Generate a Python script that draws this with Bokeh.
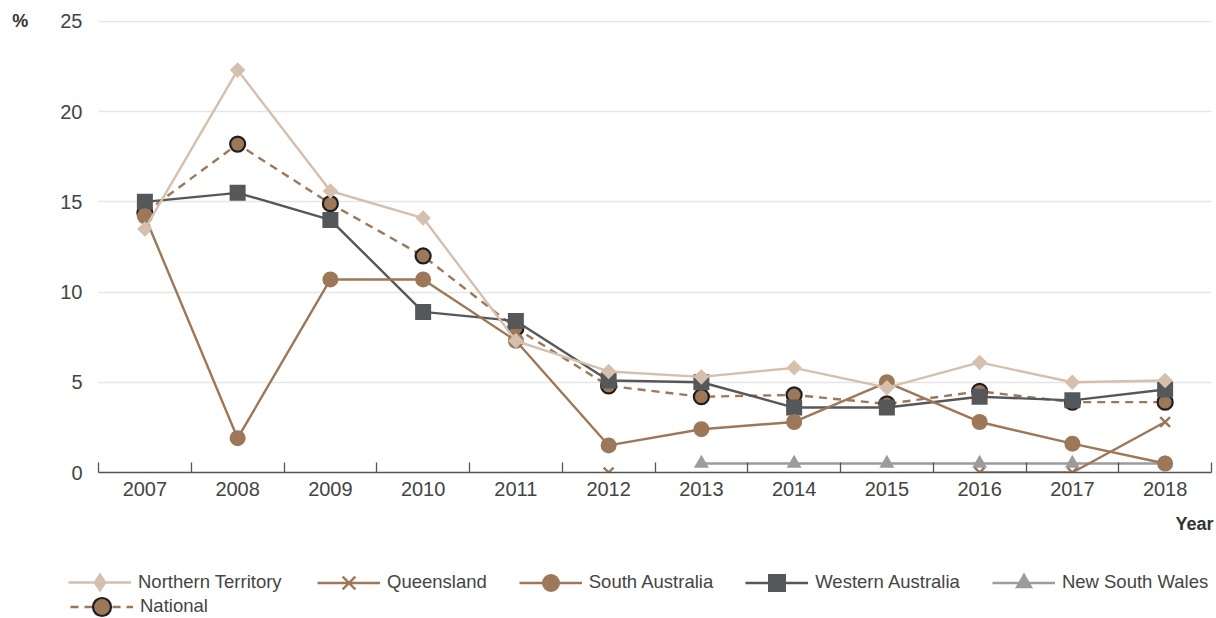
import math
from bokeh.plotting import figure
from bokeh.layouts import column
from bokeh.models import FixedTicker, Legend, LegendItem, ColumnDataSource, Title, Range1d
from bokeh.embed import file_html
from bokeh.resources import INLINE

years = [2007, 2008, 2009, 2010, 2011, 2012, 2013, 2014, 2015, 2016, 2017, 2018]
northern_territory = [13.5, 22.3, 15.6, 14.1, 7.3, 5.6, 5.3, 5.8, 4.7, 6.1, 5.0, 5.1]
queensland = [None, None, None, None, None, 0.0, None, None, None, 0.0, 0.0, 2.8]
south_australia = [14.2, 1.9, 10.7, 10.7, 7.3, 1.5, 2.4, 2.8, 5.0, 2.8, 1.6, 0.5]
western_australia = [15.0, 15.5, 14.0, 8.9, 8.4, 5.1, 5.0, 3.6, 3.6, 4.2, 4.0, 4.6]
new_south_wales = [None, None, None, None, None, None, 0.5, 0.5, 0.5, 0.5, 0.5, 0.5]
national = [14.4, 18.2, 14.9, 12.0, 8.0, 4.8, 4.2, 4.3, 3.8, 4.5, 3.9, 3.9]
y_ticks = [0, 5, 10, 15, 20, 25]

FONT = "Liberation Sans"
C_NT = "#d5bfad"
C_BR = "#9c7758"
C_WA = "#555759"
C_NSW = "#9b9c9e"
C_TXT = "#444444"
LW = 2.4

def nanify(vals):
    return [float("nan") if v is None else v for v in vals]

src = ColumnDataSource(dict(
    x=years,
    nt=nanify(northern_territory),
    q=nanify(queensland),
    sa=nanify(south_australia),
    wa=nanify(western_australia),
    nsw=nanify(new_south_wales),
    nat=nanify(national),
))

# ---------------- main chart ----------------
p = figure(width=1216, height=560, output_backend="svg", toolbar_location=None,
           x_range=(2006.5, 2018.5), y_range=(0, 25.05),
           min_border_left=98, min_border_right=5, min_border_top=20,
           min_border_bottom=88)
p.outline_line_color = None
p.frame_align = False

p.xaxis.ticker = FixedTicker(ticks=years, minor_ticks=[y - 0.5 for y in years] + [2018.5])
p.xaxis.major_tick_line_color = None
p.xaxis.major_tick_out = 0
p.xaxis.minor_tick_in = 10
p.xaxis.minor_tick_out = 0
p.xaxis.minor_tick_line_color = "#555555"
p.xaxis.minor_tick_line_width = 1.3
p.xaxis.axis_line_color = "#555555"
p.xaxis.axis_line_width = 1.3
p.xaxis.major_label_text_font = FONT
p.xaxis.major_label_text_font_size = "20px"
p.xaxis.major_label_text_color = C_TXT
p.xaxis.major_label_standoff = 9
p.xgrid.grid_line_color = None

p.yaxis.ticker = FixedTicker(ticks=y_ticks)
p.yaxis.axis_line_color = None
p.yaxis.major_tick_line_color = None
p.yaxis.major_tick_out = 0
p.yaxis.minor_tick_line_color = None
p.yaxis.major_label_text_font = FONT
p.yaxis.major_label_text_font_size = "20px"
p.yaxis.major_label_text_color = C_TXT
p.yaxis.major_label_standoff = 16
p.yaxis.axis_label = "%"
p.yaxis.axis_label_align = "end"
p.yaxis.axis_label_orientation = "horizontal"
p.yaxis.axis_label_standoff = 29
p.yaxis.axis_label_text_font = FONT
p.yaxis.axis_label_text_font_size = "18px"
p.yaxis.axis_label_text_font_style = "bold"
p.yaxis.axis_label_text_color = "#333333"
p.ygrid.ticker = FixedTicker(ticks=y_ticks[1:])
p.ygrid.grid_line_color = "#e6e6e6"
p.ygrid.grid_line_width = 1.3

p.add_layout(Title(text="Year", align="right", text_font=FONT, text_font_size="18px",
                   text_font_style="bold", text_color="#333333", standoff=27, offset=-2), "below")

def draw_series(fig, visible=True, legend_diamond=False):
    r = {}
    # draw order: National at the bottom, Northern Territory on top
    r["nat"] = [fig.line("x", "nat", source=src, line_color=C_BR, line_width=LW, line_dash="8 6", visible=visible),
                fig.scatter("x", "nat", source=src, marker="circle", size=15, fill_color=C_BR,
                            line_color="#1e1e1e", line_width=2.2, visible=visible)]
    r["nsw"] = [fig.line("x", "nsw", source=src, line_color=C_NSW, line_width=LW, visible=visible),
                fig.scatter("x", "nsw", source=src, marker="triangle", size=15, fill_color=C_NSW,
                            line_color=None, visible=visible)]
    r["wa"] = [fig.line("x", "wa", source=src, line_color=C_WA, line_width=LW, visible=visible),
               fig.scatter("x", "wa", source=src, marker="square", size=16, fill_color=C_WA,
                           line_color=None, visible=visible)]
    r["sa"] = [fig.line("x", "sa", source=src, line_color=C_BR, line_width=LW, visible=visible),
               fig.scatter("x", "sa", source=src, marker="circle", size=16, fill_color=C_BR,
                           line_color=None, visible=visible)]
    r["q"] = [fig.line("x", "q", source=src, line_color=C_BR, line_width=LW, visible=visible),
              fig.scatter("x", "q", source=src, marker="x", size=14, line_color=C_BR,
                          line_width=2.4, visible=visible)]
    if legend_diamond:
        nt_marker = fig.scatter("x", "nt", source=src, marker="diamond", size=20,
                                fill_color=C_NT, line_color=None, visible=visible)
    else:
        nt_marker = fig.scatter("x", "nt", source=src, marker="square", angle=math.pi / 4, size=11,
                                fill_color=C_NT, line_color=None, visible=visible)
    r["nt"] = [fig.line("x", "nt", source=src, line_color=C_NT, line_width=LW, visible=visible),
               nt_marker]
    return r

draw_series(p)

# ---------------- legend strip ----------------
lp = figure(width=1216, height=58, output_backend="svg", toolbar_location=None,
            x_range=Range1d(2006.5, 2018.5), y_range=Range1d(0, 25),
            x_axis_type=None, y_axis_type=None,
            min_border_left=0, min_border_right=0, min_border_top=0, min_border_bottom=0)
lp.outline_line_color = None
lp.frame_align = False
lp.xgrid.visible = False
lp.ygrid.visible = False
lr = draw_series(lp, visible=False, legend_diamond=True)

def make_legend(items, loc, glyph_h):
    return Legend(items=items, orientation="horizontal", location=loc,
                  glyph_width=63, glyph_height=glyph_h, label_height=20, label_standoff=7,
                  spacing=32, padding=0, margin=0, border_line_color=None,
                  background_fill_alpha=0, label_text_font=FONT,
                  label_text_font_size="18.5px", label_text_color=C_TXT)

leg_nt = make_legend([LegendItem(label="Northern Territory", renderers=lr["nt"])], (68, 11), 50)
leg_row1 = make_legend([
    LegendItem(label="Queensland", renderers=lr["q"]),
    LegendItem(label="South Australia", renderers=lr["sa"]),
    LegendItem(label="Western Australia", renderers=lr["wa"]),
    LegendItem(label="New South Wales", renderers=lr["nsw"]),
], (317, 13.5), 45)
leg_nat = make_legend([LegendItem(label="National", renderers=lr["nat"])], (70, -10.5), 45)
for lg in (leg_nt, leg_row1, leg_nat):
    lp.add_layout(lg, "center")

layout = column(p, lp, spacing=0)
open("out.html", "w").write(file_html(layout, INLINE))
